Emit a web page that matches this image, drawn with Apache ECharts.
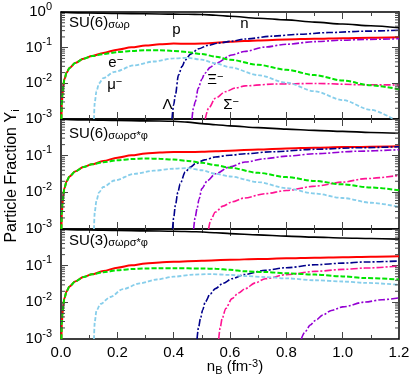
<!DOCTYPE html>
<html><head><meta charset="utf-8">
<script src="https://cdn.jsdelivr.net/npm/echarts@6/dist/echarts.min.js"></script>
<style>html,body{margin:0;padding:0;background:#fff}#c{width:417px;height:383px}</style>
</head><body><div id="c"></div>
<script>
// ---------- DATA (n_B in fm^-3, particle fraction Y_i) ----------
const LOW = [[0.0015,0.001],[0.003,0.0025],[0.005,0.0045],[0.008,0.0085],[0.012,0.013],[0.02,0.02],[0.03,0.027],[0.05,0.037],[0.08,0.049],[0.11,0.058]];

// Panel 1: SU(6) sigma-omega-rho
const P1_n = [[0,0.995],[0.1,0.94],[0.2,0.91],[0.3,0.89],[0.4,0.87],[0.45,0.865],[0.5,0.85],[0.55,0.81],[0.6,0.76],[0.7,0.67],[0.8,0.6],[0.9,0.52],[1.0,0.46],[1.1,0.41],[1.2,0.36]];
const P1_p = LOW.concat([[0.15,0.071],[0.2,0.088],[0.25,0.102],[0.3,0.115],[0.35,0.124],[0.4,0.13],[0.45,0.128],[0.5,0.13],[0.55,0.138],[0.6,0.146],[0.7,0.16],[0.8,0.17],[0.9,0.178],[1.0,0.185],[1.1,0.19],[1.2,0.195]]);
const P1_e = LOW.concat([[0.15,0.066],[0.2,0.075],[0.25,0.081],[0.3,0.085],[0.35,0.085],[0.4,0.081],[0.45,0.075],[0.5,0.066],[0.55,0.056],[0.6,0.046],[0.7,0.033],[0.8,0.024],[0.9,0.017],[1.0,0.012],[1.1,0.0088],[1.2,0.0068]]);
const P1_mu = [[0.117,0.001],[0.12,0.003],[0.126,0.006],[0.135,0.010],[0.15,0.014],[0.19,0.021],[0.26,0.032],[0.33,0.041],[0.4,0.05],[0.45,0.052],[0.5,0.046],[0.55,0.036],[0.6,0.028],[0.7,0.017],[0.8,0.0105],[0.9,0.006],[1.0,0.0034],[1.1,0.0018],[1.18,0.001]];
const P1_L = [[0.394,0.001],[0.4,0.0025],[0.406,0.0047],[0.417,0.017],[0.43,0.03],[0.441,0.045],[0.46,0.066],[0.489,0.093],[0.52,0.115],[0.56,0.135],[0.607,0.152],[0.654,0.175],[0.75,0.21],[0.843,0.237],[0.95,0.265],[1.08,0.29],[1.2,0.31]];
const P1_X = [[0.465,0.001],[0.47,0.002],[0.477,0.0031],[0.487,0.0072],[0.5,0.013],[0.51,0.019],[0.53,0.028],[0.548,0.036],[0.607,0.062],[0.65,0.078],[0.725,0.104],[0.8,0.125],[0.903,0.148],[1.0,0.162],[1.08,0.17],[1.2,0.178]];
const P1_S = [[0.512,0.001],[0.524,0.002],[0.548,0.0038],[0.583,0.0058],[0.62,0.0074],[0.654,0.0085],[0.76,0.0096],[0.903,0.0099],[1.08,0.0091],[1.2,0.009]];

// Panel 2: SU(6) sigma-omega-rho-sigma*-phi
const P2_n = [[0,0.995],[0.1,0.94],[0.2,0.91],[0.3,0.89],[0.4,0.87],[0.45,0.82],[0.5,0.75],[0.55,0.7],[0.6,0.65],[0.7,0.58],[0.8,0.53],[0.9,0.49],[1.0,0.46],[1.1,0.43],[1.2,0.41]];
const P2_p = LOW.concat([[0.15,0.071],[0.2,0.088],[0.25,0.102],[0.3,0.115],[0.35,0.122],[0.4,0.125],[0.45,0.125],[0.5,0.127],[0.55,0.131],[0.6,0.137],[0.7,0.148],[0.8,0.158],[0.9,0.165],[1.0,0.171],[1.1,0.176],[1.2,0.18]]);
const P2_e = LOW.concat([[0.15,0.066],[0.2,0.075],[0.25,0.081],[0.3,0.084],[0.35,0.082],[0.4,0.078],[0.45,0.072],[0.5,0.064],[0.55,0.055],[0.6,0.047],[0.7,0.034],[0.8,0.026],[0.9,0.0205],[1.0,0.0165],[1.1,0.0135],[1.2,0.0114]]);
const P2_mu = [[0.117,0.001],[0.12,0.003],[0.126,0.006],[0.135,0.010],[0.15,0.014],[0.19,0.021],[0.26,0.032],[0.33,0.039],[0.4,0.044],[0.45,0.046],[0.5,0.04],[0.55,0.032],[0.6,0.027],[0.7,0.019],[0.8,0.013],[0.9,0.0093],[1.0,0.007],[1.1,0.0052],[1.2,0.004]];
const P2_L = [[0.396,0.001],[0.4,0.002],[0.406,0.0044],[0.415,0.01],[0.423,0.017],[0.441,0.036],[0.46,0.049],[0.477,0.06],[0.51,0.077],[0.548,0.092],[0.6,0.103],[0.654,0.113],[0.75,0.128],[0.903,0.149],[1.05,0.164],[1.2,0.175]];
const P2_X = [[0.471,0.001],[0.476,0.002],[0.483,0.0036],[0.49,0.0065],[0.5,0.0126],[0.52,0.021],[0.548,0.032],[0.6,0.05],[0.654,0.067],[0.725,0.083],[0.8,0.097],[0.903,0.113],[1.05,0.132],[1.2,0.146]];
const P2_S = [[0.524,0.001],[0.532,0.0018],[0.548,0.0029],[0.575,0.0042],[0.607,0.0055],[0.65,0.007],[0.725,0.0092],[0.8,0.0112],[0.903,0.0148],[1.0,0.019],[1.08,0.0236],[1.2,0.029]];

// Panel 3: SU(3) sigma-omega-rho-sigma*-phi
const P3_n = [[0,0.995],[0.1,0.94],[0.2,0.91],[0.3,0.89],[0.4,0.87],[0.48,0.84],[0.55,0.79],[0.6,0.75],[0.7,0.69],[0.8,0.64],[0.9,0.6],[1.0,0.57],[1.1,0.55],[1.2,0.53]];
const P3_p = LOW.concat([[0.15,0.071],[0.2,0.088],[0.25,0.102],[0.3,0.115],[0.35,0.122],[0.4,0.128],[0.5,0.137],[0.6,0.145],[0.7,0.152],[0.8,0.159],[0.9,0.165],[1.0,0.17],[1.1,0.175],[1.2,0.18]]);
const P3_e = LOW.concat([[0.15,0.066],[0.2,0.075],[0.25,0.081],[0.3,0.084],[0.35,0.085],[0.4,0.085],[0.5,0.084],[0.55,0.082],[0.6,0.077],[0.654,0.07],[0.725,0.067],[0.8,0.062],[0.903,0.057],[1.0,0.051],[1.08,0.046],[1.2,0.042]]);
const P3_mu = [[0.117,0.001],[0.12,0.003],[0.126,0.006],[0.14,0.009],[0.175,0.014],[0.22,0.023],[0.28,0.033],[0.34,0.042],[0.4,0.05],[0.47,0.057],[0.53,0.059],[0.6,0.056],[0.654,0.052],[0.725,0.049],[0.8,0.045],[0.903,0.04],[1.0,0.037],[1.08,0.034],[1.2,0.03]];
const P3_L = [[0.483,0.001],[0.488,0.002],[0.495,0.0036],[0.503,0.0062],[0.512,0.0102],[0.53,0.017],[0.548,0.0236],[0.575,0.033],[0.607,0.044],[0.65,0.057],[0.725,0.075],[0.8,0.088],[0.903,0.106],[1.0,0.117],[1.08,0.126],[1.2,0.134]];
const P3_S = [[0.56,0.001],[0.565,0.002],[0.572,0.0036],[0.585,0.0068],[0.607,0.0126],[0.63,0.018],[0.654,0.0236],[0.69,0.034],[0.725,0.044],[0.8,0.057],[0.903,0.07],[1.0,0.079],[1.08,0.086],[1.2,0.098]];
const P3_X = [[0.853,0.001],[0.867,0.0016],[0.885,0.0024],[0.903,0.0032],[0.93,0.0045],[0.96,0.006],[1.0,0.0075],[1.08,0.0102],[1.14,0.0118],[1.2,0.0132]];

const X_TICKS = [0, 0.2, 0.4, 0.6, 0.8, 1.0, 1.2];
const PANEL_TITLES = [['SU(6)','σωρ'],['SU(6)','σωρσ*φ'],['SU(3)','σωρσ*φ']];
// curve labels in top panel: [n_B, Y] anchor (left edge, middle)
const LABEL_POS = [[0.395,0.31],[0.636,0.46],[0.168,0.037],[0.164,0.0089],[0.36,0.00247],[0.519,0.0124],[0.576,0.00247]];
const LABEL_TXT = ['p','n','e−','μ−','Λ','Ξ−','Σ−'];

// ---------- CHART ----------
const FONT = 'Liberation Sans';
const GRIDS = [{top:12,height:107},{top:119,height:110},{top:229,height:110}];
const PANELS = [
  {n:P1_n,p:P1_p,e:P1_e,mu:P1_mu,L:P1_L,X:P1_X,S:P1_S},
  {n:P2_n,p:P2_p,e:P2_e,mu:P2_mu,L:P2_L,X:P2_X,S:P2_S},
  {n:P3_n,p:P3_p,e:P3_e,mu:P3_mu,L:P3_L,X:P3_X,S:P3_S}
];
const STYLES = {
  n:{color:'#000000',width:1.6,type:'solid'},
  p:{color:'#ff0000',width:2,type:'solid'},
  e:{color:'#00e400',width:2,type:[5,2]},
  mu:{color:'#87ceeb',width:1.8,type:[4,2]},
  L:{color:'#00008b',width:1.6,type:[7,2,2,2]},
  X:{color:'#9400d3',width:1.6,type:[7,2,2,2]},
  S:{color:'#ff1493',width:1.6,type:[7,2,2,2]}
};
const ORDER = ['n','p','e','mu','L','X','S'];
const MINOR = [];
for (let d = -3; d < 0; d++) for (let k = 2; k <= 9; k++) MINOR.push([0, k * Math.pow(10, d)]);

const xAxes = [], yAxes = [], series = [];
const axisLine = {show:true,onZero:false,lineStyle:{color:'#000',width:1.5}};
GRIDS.forEach((g, k) => {
  const xBase = {gridIndex:k,type:'value',min:0,max:1.2,interval:0.2,axisLine,
    axisTick:{inside:true,length:7,lineStyle:{color:'#444',width:1}},
    minorTick:{show:true,splitNumber:2,length:4,lineStyle:{color:'#444',width:1}},
    splitLine:{show:false},minorSplitLine:{show:false}};
  xAxes.push(Object.assign({}, xBase, {position:'bottom',
    axisLabel:{show:k===2,fontSize:15,fontFamily:FONT,color:'#000',margin:6,formatter:v=>v.toFixed(1)}}));
  xAxes.push(Object.assign({}, xBase, {position:'top',axisLabel:{show:false}}));
  const yBase = {gridIndex:k,type:'log',logBase:10,min:0.001,max:1,axisLine,
    axisTick:{inside:true,length:7,lineStyle:{color:'#444',width:1}},
    splitLine:{show:false}};
  yAxes.push(Object.assign({}, yBase, {position:'left',
    axisLabel:{show:true,showMaxLabel:k===0,showMinLabel:true,margin:9,
      formatter:v=>'{b|10}{s|' + Math.round(Math.log10(v)) + '}',
      rich:{b:{fontSize:15,fontFamily:FONT,color:'#000',lineHeight:22},
            s:{fontSize:11,fontFamily:FONT,color:'#000',lineHeight:9,verticalAlign:'top'}}}}));
  yAxes.push(Object.assign({}, yBase, {position:'right',axisLabel:{show:false}}));

  const P = PANELS[k];
  ORDER.forEach(key => {
    const st = STYLES[key];
    series.push({type:'line',xAxisIndex:2*k,yAxisIndex:2*k,data:P[key],showSymbol:false,
      smooth:0.3,smoothMonotone:'x',silent:true,animation:false,
      lineStyle:{color:st.color,width:st.width,type:st.type},z:key==='e'||key==='mu'?3:2});
  });
  // log minor ticks at 2..9 x 10^d, both sides
  series.push({type:'custom',xAxisIndex:2*k,yAxisIndex:2*k,data:MINOR,silent:true,animation:false,z:5,
    renderItem:(params, api) => {
      const v = api.value(1);
      const a = api.coord([0, v]), b = api.coord([1.2, v]);
      return {type:'group',children:[
        {type:'line',shape:{x1:a[0],y1:a[1],x2:a[0]+4,y2:a[1]},style:{stroke:'#444',lineWidth:1}},
        {type:'line',shape:{x1:b[0]-4,y1:b[1],x2:b[0],y2:b[1]},style:{stroke:'#444',lineWidth:1}}]};
    }});
});

// curve labels in top panel
const labelRich = {b:{fontSize:15,fontFamily:FONT,color:'#000',lineHeight:18},
                   s:{fontSize:11,fontFamily:FONT,color:'#000',lineHeight:8,verticalAlign:'top'}};
series.push({type:'custom',xAxisIndex:0,yAxisIndex:0,data:LABEL_POS,silent:true,animation:false,z:6,
  renderItem:(params, api) => {
    const pt = api.coord([api.value(0), api.value(1)]);
    const t = LABEL_TXT[params.dataIndex];
    const txt = t.length > 1 ? '{b|' + t[0] + '}{s|' + t.slice(1) + '}' : '{b|' + t + '}';
    return {type:'text',x:pt[0],y:pt[1],style:{text:txt,rich:labelRich,align:'left',verticalAlign:'middle'}};
  }});

const titleOffsets = [15, 126, 233];
const graphic = PANEL_TITLES.map((t, i) => ({type:'text',left:69,top:titleOffsets[i],silent:true,
  style:{text:'{b|' + t[0] + '}{s|' + t[1] + '}',
    rich:{b:{fontSize:15,fontFamily:FONT,color:'#000',lineHeight:16},
          s:{fontSize:11,fontFamily:FONT,color:'#000',lineHeight:6,verticalAlign:'bottom'}}}}));
graphic.push({type:'text',x:235,y:367,silent:true,
  style:{text:'{b|n}{d|B}{b| (fm}{s|-3}{b|)}',align:'center',verticalAlign:'middle',
    rich:{b:{fontSize:15,fontFamily:FONT,color:'#000',lineHeight:18},
          d:{fontSize:11,fontFamily:FONT,color:'#000',lineHeight:6,verticalAlign:'bottom'},
          s:{fontSize:11,fontFamily:FONT,color:'#000',lineHeight:9,verticalAlign:'top'}}}});
graphic.push({type:'text',x:12,y:176,rotation:Math.PI/2,silent:true,
  style:{text:'{b|Particle Fraction Y}{d|i}',align:'center',verticalAlign:'middle',
    rich:{b:{fontSize:16,fontFamily:FONT,color:'#000',lineHeight:18},
          d:{fontSize:11,fontFamily:FONT,color:'#000',lineHeight:6,verticalAlign:'bottom'}}}});

const chart = echarts.init(document.getElementById('c'), null, {renderer:'canvas'});
chart.setOption({
  animation:false,
  backgroundColor:'#fff',
  grid:GRIDS.map(g => ({left:61,width:338,top:g.top,height:g.height,containLabel:false})),
  xAxis:xAxes, yAxis:yAxes, series, graphic
});
</script></body></html>
